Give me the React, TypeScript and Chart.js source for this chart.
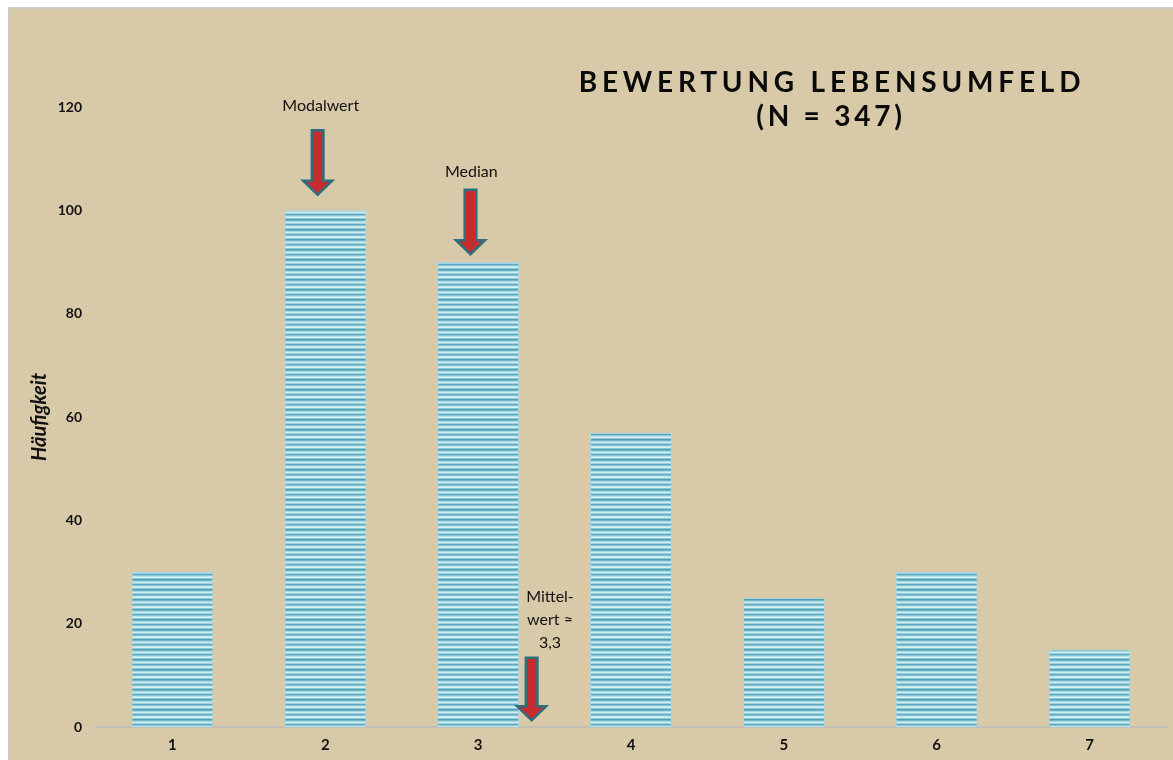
import React, { useEffect, useRef } from 'react';
import { Chart, registerables } from 'chart.js';

Chart.register(...registerables);

const categories = ['1', '2', '3', '4', '5', '6', '7'];
const frequencies = [30, 100, 90, 57, 25, 30, 15];
const yMin = 0;
const yMax = 120;
const yStep = 20;
const titleLines = ['BEWERTUNG LEBENSUMFELD', '(N = 347)'];
const yAxisTitle = 'Häufigkeit';

// annotation markers (category-index positions and value positions)
const markerArrowX = [0.95, 1.95, 2.35];
const markerArrowTop = [115.5, 104, 13.4];
const markerArrowTip = [103, 91.5, 1.3];
const markerLabelX = [0.97, 1.955, 2.47];
const markerLabelY = [120.2, 107.4, 25.2];
const markerLabels = [['Modalwert'], ['Median'], ['Mittel-', 'wert \u2248', '3,3']];

const stripeColors = ['#4e9fb5', '#6fb6c9', '#a9d9e4', '#cdebf2', '#9fd3df', '#5ea9be', '#88c6d5', '#bfe4ec', '#d9f0f5', '#8ccad8'];

const FONT = 'Lato, "Open Sans", sans-serif';

function makeStripePattern(ctx: CanvasRenderingContext2D) {
  const c = document.createElement('canvas');
  c.width = 4;
  c.height = stripeColors.length;
  const g = c.getContext('2d')!;
  stripeColors.forEach((col, i) => {
    g.fillStyle = col;
    g.fillRect(0, i, 4, 1);
  });
  return ctx.createPattern(c, 'repeat')!;
}

function drawArrow(ctx: CanvasRenderingContext2D, x: number, yTop: number, yTip: number) {
  const shaftHalf = 5.8;
  const headHalf = 14.5;
  const headLen = 14;
  ctx.save();
  ctx.beginPath();
  ctx.moveTo(x - shaftHalf, yTop);
  ctx.lineTo(x + shaftHalf, yTop);
  ctx.lineTo(x + shaftHalf, yTip - headLen);
  ctx.lineTo(x + headHalf, yTip - headLen);
  ctx.lineTo(x, yTip);
  ctx.lineTo(x - headHalf, yTip - headLen);
  ctx.lineTo(x - shaftHalf, yTip - headLen);
  ctx.closePath();
  ctx.fillStyle = '#c62b2e';
  ctx.fill();
  ctx.lineWidth = 2.5;
  ctx.strokeStyle = '#2e6e7e';
  ctx.lineJoin = 'miter';
  ctx.stroke();
  ctx.restore();
}

const overlayPlugin = {
  id: 'overlay',
  afterDraw(chart: any) {
    const ctx: CanvasRenderingContext2D = chart.ctx;
    const xs = chart.scales.x;
    const ys = chart.scales.y;
    // markers
    for (let i = 0; i < markerLabels.length; i++) {
      drawArrow(ctx, xs.getPixelForValue(markerArrowX[i]), ys.getPixelForValue(markerArrowTop[i]), ys.getPixelForValue(markerArrowTip[i]));
      ctx.save();
      ctx.font = `16px ${FONT}`;
      ctx.fillStyle = '#111';
      ctx.textAlign = 'center';
      ctx.textBaseline = 'middle';
      const lx = xs.getPixelForValue(markerLabelX[i]);
      const ly = ys.getPixelForValue(markerLabelY[i]);
      markerLabels[i].forEach((t, j) => ctx.fillText(t, lx, ly + j * 23));
      ctx.restore();
    }
    // title
    ctx.save();
    ctx.font = `bold 28px ${FONT}`;
    ctx.fillStyle = '#0a0a0a';
    ctx.textAlign = 'center';
    ctx.textBaseline = 'middle';
    (ctx as any).letterSpacing = '4.8px';
    ctx.fillText(titleLines[0], 822, 74);
    (ctx as any).letterSpacing = '3.8px';
    ctx.fillText(titleLines[1], 821, 108);
    ctx.restore();
  },
};

export default function App() {
  const ref = useRef<HTMLCanvasElement | null>(null);
  useEffect(() => {
    const canvas = ref.current!;
    const ctx = canvas.getContext('2d')!;
    const pattern = makeStripePattern(ctx);
    const chart = new Chart(canvas, {
      type: 'bar',
      data: {
        labels: categories,
        datasets: [
          {
            data: frequencies,
            backgroundColor: pattern as any,
            borderColor: '#a9d8e3',
            borderWidth: { top: 1, left: 1, right: 1, bottom: 0 } as any,
            borderSkipped: false as any,
            categoryPercentage: 1,
            barPercentage: 0.536,
          },
        ],
      },
      options: {
        responsive: false,
        animation: false,
        devicePixelRatio: 1,
        layout: { padding: { left: 0, top: 98, right: 7, bottom: 0 } },
        plugins: { legend: { display: false }, tooltip: { enabled: false }, title: { display: false } },
        scales: {
          x: {
            grid: { display: false, drawTicks: false },
            border: { display: true, color: '#c2bfb8', width: 2 },
            ticks: { color: '#111', font: { family: FONT, size: 15, weight: 'bold' }, padding: 9 },
            afterFit: (s: any) => { s.height = 33; },
          },
          y: {
            min: yMin,
            max: yMax,
            grid: { display: false, drawTicks: false },
            border: { display: false },
            ticks: { stepSize: yStep, color: '#111', font: { family: FONT, size: 14, weight: 'bold' }, padding: 14 },
            title: {
              display: true,
              text: yAxisTitle,
              color: '#111',
              font: { family: FONT, size: 20, weight: 'bold', style: 'italic' },
              padding: { top: 18, bottom: 0 },
            },
            afterFit: (s: any) => { s.width = 86; },
          },
        },
      },
      plugins: [overlayPlugin],
    });
    return () => chart.destroy();
  }, []);
  return (
    <div style={{ position: 'fixed', left: 0, top: 0, width: 1173, height: 760, background: '#fff', overflow: 'hidden' }}>
      <div
        style={{
          position: 'absolute',
          left: 8,
          top: 7,
          width: 1165,
          height: 753,
          background: '#d8caa8',
          borderLeft: '2px solid #cfcbc3',
          borderTop: '2px solid #cfcbc3',
          boxSizing: 'border-box',
        }}
      >
        <canvas ref={ref} width={1163} height={751} style={{ display: 'block' }} />
      </div>
    </div>
  );
}
